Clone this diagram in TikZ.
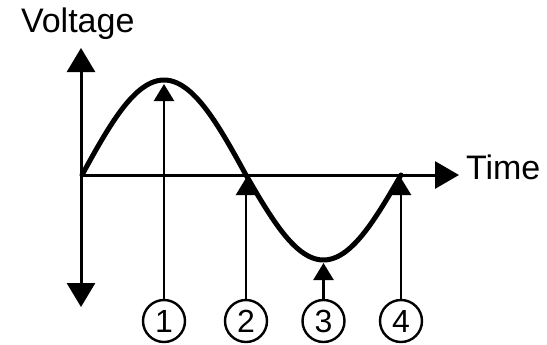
\documentclass[tikz,border=0pt]{standalone}
\usepackage{fontspec}
\setmainfont{Liberation Sans}
\usetikzlibrary{arrows.meta, positioning}
\tikzset{
  every picture/.style={line width=1pt},
  axis/.style={{Triangle[length=12pt, width=14pt]}-{Triangle[length=12pt, width=14pt]}, line width=1.5pt},
  timeaxis/.style={-{Triangle[length=12pt, width=13.5pt]}, line width=1.5pt},
  wave/.style={line width=2.5pt, line cap=round, line join=round},
  pointer/.style={-{Triangle[length=8.5pt, width=10pt]}, line width=1.2pt},
  num/.style={draw, circle, line width=1.2pt, minimum size=21pt, inner sep=0pt, font=\fontsize{16}{19}\selectfont},
  axlabel/.style={inner sep=0pt, font=\fontsize{17}{20}\selectfont},
}
\begin{document}
\begin{tikzpicture}[x=0.5pt, y=-0.5pt]
  \useasboundingbox (0,0) rectangle (547,344);
  \coordinate (O) at (81,175); \coordinate (top) at (81,48); \coordinate (bot) at (81,307);
  \coordinate (tx) at (459,175);
  \draw[axis] (bot) -- (top);
  \draw[timeaxis] (O) -- (tx);
  \node[axlabel, anchor=base west] (volt) at (20,32) {Voltage};
  \node[axlabel, anchor=base west] (time) at (465,179) {Time};
  \draw[wave] plot[domain=0:180, samples=60] ({82+\x/180*164},{175-95*sin(\x)})
    -- plot[domain=180:360, samples=60] ({246+(\x-180)/180*155},{175-85*sin(\x)});
  \coordinate (p1) at (164,84); \coordinate (p2) at (246,178);
  \coordinate (p3) at (323.5,263); \coordinate (p4) at (401,178);
  \node[num] (n1) at (164,321) {1};
  \node[num] (n2) at (246,321) {2};
  \node[num] (n3) at (323.5,321) {3};
  \node[num] (n4) at (401,321) {4};
  \foreach \i in {1,...,4}
    \draw[pointer] (n\i) -- (p\i);
\end{tikzpicture}
\end{document}
